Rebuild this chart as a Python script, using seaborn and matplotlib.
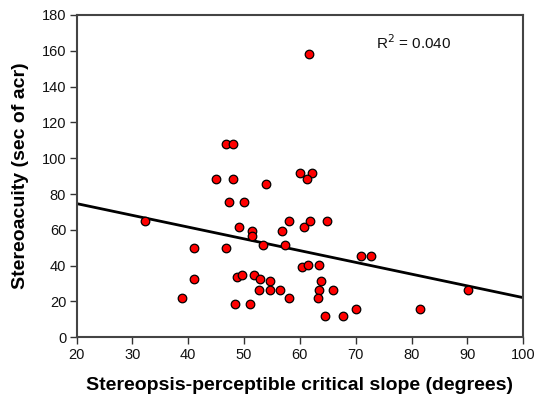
import matplotlib
matplotlib.use("Agg")
import matplotlib.pyplot as plt
import pandas as pd
import seaborn as sns

# values
slope_deg = [32.2, 38.9, 41.0, 41.0, 45.0, 46.8, 46.8, 48.0, 48.0, 47.3,
             50.0, 49.1, 54.0, 48.7, 49.7, 48.3, 51.1, 51.4, 51.4, 53.4,
             51.8, 52.9, 52.7, 54.6, 54.7, 56.4, 56.8, 58.1, 57.4, 58.1,
             60.0, 62.1, 61.3, 60.3, 61.4, 60.8, 61.8, 61.7, 64.9, 63.4,
             63.8, 63.4, 63.3, 65.9, 64.5, 67.8, 70.1, 71.0, 72.7, 81.5,
             90.2]
acuity_sec = [65.0, 22.0, 49.7, 32.8, 88.5, 49.7, 108.2, 108.2, 88.5, 75.6,
              75.6, 61.6, 85.6, 33.7, 34.6, 18.6, 18.6, 59.6, 56.6, 51.7,
              34.6, 32.8, 26.3, 31.7, 26.3, 26.3, 59.6, 65.0, 51.7, 22.0,
              91.5, 91.5, 88.5, 39.3, 40.4, 61.6, 65.0, 158.0, 65.0, 40.4,
              31.7, 26.3, 22.0, 26.3, 12.1, 12.1, 16.0, 45.6, 45.6, 16.0,
              26.3]
x_ticks = list(range(20, 101, 10))
y_ticks = list(range(0, 181, 20))
r2_label = "R$^2$ = 0.040"

df = pd.DataFrame({"slope": slope_deg, "acuity": acuity_sec})

sns.set_style("white")
plt.rcParams["font.family"] = ["Liberation Sans", "DejaVu Sans"]

fig = plt.figure(figsize=(5.36, 4.03), dpi=100)
ax = fig.add_axes([0.143, 0.163, 0.833, 0.800])
# limits first so the fit line spans the whole x range
ax.set_xlim(20, 100)
ax.set_ylim(0, 180)

sns.regplot(data=df, x="slope", y="acuity", ax=ax, ci=None, truncate=False,
            scatter_kws=dict(s=38, color="#ff0000", edgecolor="black",
                             linewidths=0.9, alpha=1, zorder=3),
            line_kws=dict(color="black", lw=2.0, zorder=2))

ax.set_xlim(20, 100)
ax.set_ylim(0, 180)
ax.set_xticks(x_ticks)
ax.set_yticks(y_ticks)
ax.tick_params(direction="out", length=5, width=1, color="#333333",
               labelsize=10.5, pad=2.5, bottom=True, left=True,
               labelcolor="#111111")
for sp in ax.spines.values():
    sp.set_color("#444444")
    sp.set_linewidth(1.5)

ax.set_xlabel("Stereopsis-perceptible critical slope (degrees)",
              fontsize=14, fontweight="bold", labelpad=11, color="black")
ax.set_ylabel("Stereoacuity (sec of acr)", fontsize=14,
              fontweight="bold", labelpad=9, color="black")

ax.text(0.671, 0.913, r2_label, transform=ax.transAxes, fontsize=11,
        ha="left", va="center", color="#111111")

fig.savefig("out.png", dpi=100)
